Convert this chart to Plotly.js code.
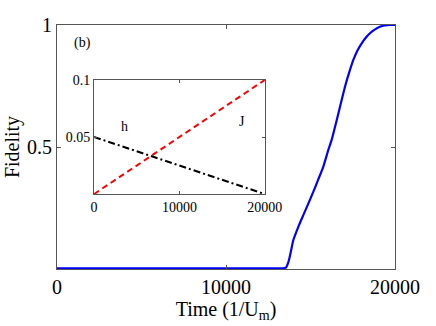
<!DOCTYPE html>
<html>
<head>
<meta charset="utf-8">
<script src="https://cdn.plot.ly/plotly-3.0.1.min.js"></script>
<style>
  html, body { margin: 0; padding: 0; background: #fff; }
  #chart { width: 436px; height: 326px; }
</style>
</head>
<body>
<div id="chart"></div>
<script>
// main panel: fidelity vs time
const timeVals = [0, 4000, 8000, 12000, 13300, 13550, 13700, 13850, 13985, 14280, 14575, 14870, 15170, 15460, 15760, 16055, 16250, 16550, 16800, 17040, 17290, 17535, 17780, 18030, 18270, 18520, 18820, 19110, 19400, 19700, 20000];
const fidelityVals = [0.003, 0.003, 0.003, 0.003, 0.003, 0.006, 0.03, 0.075, 0.119, 0.173, 0.221, 0.268, 0.317, 0.367, 0.42, 0.488, 0.529, 0.61, 0.68, 0.747, 0.806, 0.857, 0.896, 0.925, 0.948, 0.966, 0.982, 0.993, 0.998, 1.0, 1.0];

// inset: control parameters h and J
const insetTime = [0, 20000];
const hVals = [0.05, 0.0];
const jVals = [0.0, 0.1];

const serif = "'Liberation Serif', 'Times New Roman', serif";
const frame = "#555";

const traces = [
    {
        x: timeVals, y: fidelityVals,
        mode: "lines", line: { color: "#0000ff", width: 2.2, shape: "spline", smoothing: 0.6 },
        xaxis: "x", yaxis: "y", hoverinfo: "skip"
    },
    {
        x: insetTime, y: jVals,
        mode: "lines", line: { color: "#ff0000", width: 2, dash: "6px,4px" },
        xaxis: "x2", yaxis: "y2"
    },
    {
        x: insetTime, y: hVals,
        mode: "lines", line: { color: "#000000", width: 2, dash: "7px,3px,2px,3px" },
        xaxis: "x2", yaxis: "y2"
    }
];

const layout = {
    width: 436, height: 326,
    margin: { l: 57, r: 41, t: 25, b: 57 },
    paper_bgcolor: "#fff", plot_bgcolor: "#fff",
    showlegend: false,
    font: { family: serif, color: "#000" },
    xaxis: {
        range: [0, 20000],
        tickvals: [0, 10000, 20000], ticktext: ["0", "10000", "20000"],
        ticks: "inside", ticklen: 4, tickcolor: frame,
        showline: true, mirror: "ticks", linecolor: frame, linewidth: 1,
        showgrid: false, zeroline: false,
        tickfont: { size: 20, family: serif },
        title: { text: "Time (1/U<sub>m</sub>)", font: { size: 20, family: serif }, standoff: 0 }
    },
    yaxis: {
        range: [0, 1],
        tickvals: [0.5, 1], ticktext: ["0.5", "1"],
        ticks: "inside", ticklen: 4, tickcolor: frame,
        showline: true, mirror: "ticks", linecolor: frame, linewidth: 1,
        showgrid: false, zeroline: false,
        tickfont: { size: 20, family: serif },
        title: { text: "Fidelity", font: { size: 20, family: serif }, standoff: 2 }
    },
    xaxis2: {
        domain: [0.1095, 0.615], anchor: "y2",
        range: [0, 20000],
        tickvals: [0, 10000, 20000], ticktext: ["0", "10000", "20000"],
        ticks: "inside", ticklen: 3, tickcolor: frame,
        showline: true, mirror: "ticks", linecolor: frame, linewidth: 1,
        showgrid: false, zeroline: false,
        tickfont: { size: 14, family: serif }
    },
    yaxis2: {
        domain: [0.307, 0.775], anchor: "x2",
        range: [0, 0.1],
        tickvals: [0.05, 0.1], ticktext: ["0.05", "0.1"],
        ticks: "inside", ticklen: 3, tickcolor: frame,
        showline: true, mirror: "ticks", linecolor: frame, linewidth: 1,
        showgrid: false, zeroline: false,
        tickfont: { size: 14, family: serif }
    },
    annotations: [
        { text: "(b)", x: 1480, y: 0.926, xref: "x", yref: "y", showarrow: false,
          font: { size: 14, family: serif } },
        { text: "h", x: 3625, y: 0.059, xref: "x2", yref: "y2", showarrow: false,
          font: { size: 14, family: serif } },
        { text: "J", x: 17300, y: 0.064, xref: "x2", yref: "y2", showarrow: false,
          font: { size: 14, family: serif } }
    ]
};

Plotly.newPlot("chart", traces, layout, { staticPlot: true, displayModeBar: false });
</script>
</body>
</html>
